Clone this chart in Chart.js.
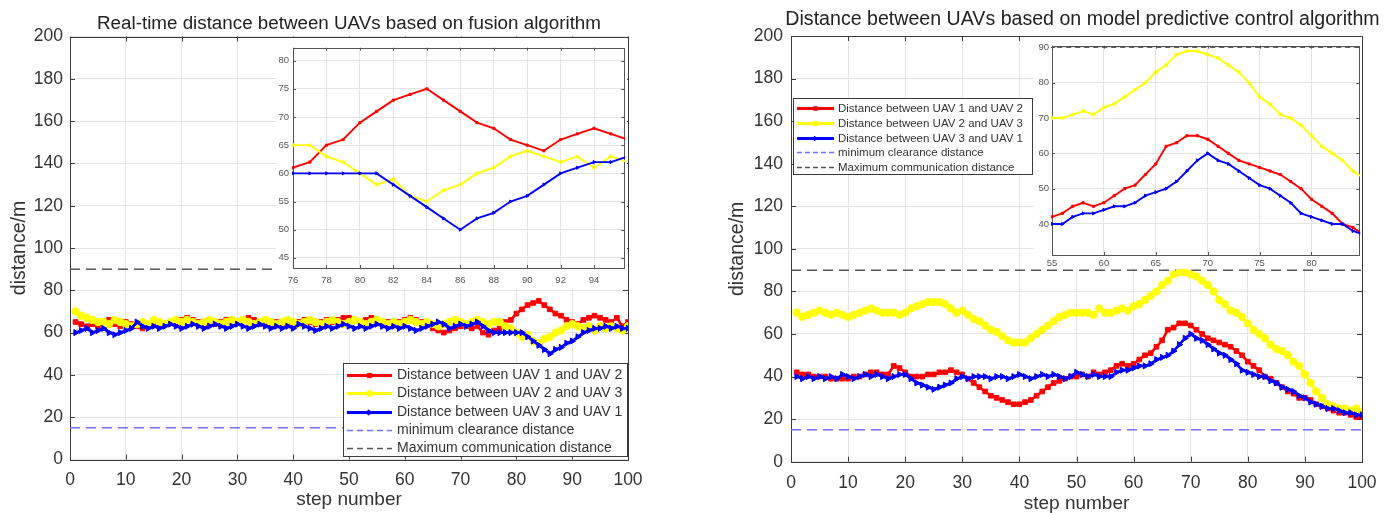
<!DOCTYPE html>
<html>
<head>
<meta charset="utf-8">
<title>Distance between UAVs</title>
<script src="https://cdn.jsdelivr.net/npm/chart.js@4/dist/chart.umd.min.js"></script>
<style>
html,body{margin:0;padding:0;background:#fff;overflow:hidden;}
#stage{position:relative;width:1391px;height:513px;background:#fff;}
canvas{position:absolute;display:block;}
#c1{left:0;top:0;}
#c3{left:660px;top:0;}
#c2{left:276px;top:38px;background:#fff;}
#c4{left:1034px;top:37px;background:#fff;}
</style>
</head>
<body>
<div id="stage">
<canvas id="c1" width="660" height="513"></canvas>
<canvas id="c3" width="731" height="513"></canvas>
<canvas id="c2" width="351" height="250"></canvas>
<canvas id="c4" width="328" height="232"></canvas>
</div>
<script>
// ---------------- data ----------------
const steps = Array.from({length: 100}, (_, i) => i + 1);

const seriesLabels = [
  'Distance between UAV 1 and UAV 2',
  'Distance between UAV 2 and UAV 3',
  'Distance between UAV 3 and UAV 1'
];
const refLabels = ['minimum clearance distance', 'Maximum communication distance'];
const clearanceLevel = 15;
const commLevel = 90;

const titles = [
  'Real-time distance between UAVs based on fusion algorithm',
  'Distance between UAVs based on model predictive control algorithm'
];
const xAxisTitle = 'step number';
const yAxisTitle = 'distance/m';

// fusion algorithm (left)
const fusionRed = [
  65,64,63,64,63,65,66,64,63,65,
  64,63,62,63,64,63,64,65,64,66,
  67,66,65,64,65,64,65,66,65,65,
  66,67,66,64,65,64,65,64,65,64,
  65,66,65,64,65,66,65,66,67,67,
  66,65,66,67,65,64,65,64,65,66,
  67,66,65,64,62,61,60,61,62,63,
  63,62,63,60,59,61,62,65,66,69,
  71,73,74,75,73,71,69,68,66,65,
  64,66,67,68,67,66,65,67,63,65
];
const fusionYellow = [
  70,68,67,66,65,65,64,66,65,64,
  63,64,65,64,66,65,64,65,66,65,
  66,65,64,65,66,65,64,65,66,65,
  66,65,64,65,66,65,64,65,66,65,
  64,65,66,65,64,65,66,65,64,65,
  66,65,64,65,66,65,64,65,64,65,
  66,65,64,65,64,63,64,65,66,65,
  64,65,66,65,64,65,65,63,62,60,
  58,59,56,55,57,58,60,61,63,64,
  63,62,63,61,63,62,63,62,61,63
];
const fusionBlue = [
  60,61,62,60,61,62,60,59,60,61,
  62,65,63,62,63,62,63,64,63,62,
  63,64,63,62,63,64,63,62,63,64,
  63,62,63,64,63,62,63,62,63,62,
  64,63,62,61,62,63,62,63,64,63,
  62,63,62,63,64,63,62,63,62,63,
  62,61,62,63,64,65,64,62,63,64,
  63,64,65,63,61,60,60,60,60,60,
  60,58,56,54,52,50,52,53,55,56,
  58,60,61,62,62,63,62,63,62,62
];

// model predictive control (right)
const mpcRed = [
  42,41,41,40,40,40,39,39,39,39,
  40,40,41,42,42,41,41,45,44,42,
  40,40,40,41,41,42,42,43,42,41,
  39,37,35,33,31,30,29,28,27,27,
  28,29,31,33,35,37,38,39,40,40,
  41,40,42,41,42,43,45,46,45,46,
  48,50,51,54,57,62,63,65,65,64,
  62,60,58,57,56,55,54,52,50,47,
  45,43,40,39,37,35,33,32,30,30,
  29,27,26,25,24,23,23,22,21,21
];
const mpcYellow = [
  70,68,69,70,71,70,69,70,69,68,
  69,70,71,72,71,70,70,70,69,70,
  72,73,74,75,75,75,74,72,70,71,
  69,67,66,64,62,61,59,57,56,56,
  56,58,60,62,64,66,68,69,70,70,
  70,70,69,72,70,70,71,72,71,73,
  74,76,78,80,83,85,88,89,89,88,
  87,85,83,80,76,74,71,70,68,65,
  62,60,58,55,53,52,50,47,45,41,
  37,33,30,27,26,25,25,24,25,23
];
const mpcBlue = [
  40,39,40,39,40,39,40,39,41,40,
  39,40,41,40,41,40,39,40,41,41,
  39,37,36,35,34,35,36,37,39,40,
  39,40,40,40,39,40,40,39,40,41,
  40,39,40,41,40,41,40,39,40,42,
  41,40,41,40,40,40,42,43,43,44,
  45,45,46,48,49,50,52,55,58,60,
  58,57,55,53,51,50,48,46,43,42,
  41,40,40,38,37,35,34,33,31,30,
  28,27,26,25,25,24,23,23,22,22
];

// axis ranges / ticks
const mainX = {min: 0, max: 100, step: 10};
const mainY = {min: 0, max: 200, step: 20};
const fusionInsetX = {min: 76, max: 95.8, step: 2};
const fusionInsetY = {min: 43.2, max: 82.3, step: 5};
const mpcInsetX = {min: 55, max: 84.6, step: 5};
const mpcInsetY = {min: 31.2, max: 90.5, step: 10};

// ---------------- style ----------------
const FONT = '"Liberation Sans", Arial, Helvetica, sans-serif';
Chart.defaults.font.family = FONT;
const RED = '#ff0000', YEL = '#ffff00', BLU = '#0000ff';
const CLEAR_C = '#6f6fff', COMM_C = '#555555';
const GRID = '#e4e4e4', AXIS = '#3a3a3a', TXT = '#333333';

function pts(vals) { return steps.map((s, i) => ({x: s, y: vals[i]})); }

function series(label, color, style, rot, vals, lw, r, order) {
  return {
    label, data: pts(vals), borderColor: color, backgroundColor: color,
    pointBackgroundColor: color, pointBorderColor: color, pointStyle: style,
    pointRotation: rot, pointRadius: r, pointHoverRadius: r, pointBorderWidth: 1,
    borderWidth: lw, tension: 0, order, legendWidth: 3.2
  };
}
function refLine(label, color, level, lw, dash) {
  return {
    label, data: [{x: mainX.min, y: level}, {x: mainX.max, y: level}],
    borderColor: color, backgroundColor: color, borderWidth: lw, borderDash: dash,
    pointRadius: 0, pointHoverRadius: 0, tension: 0, order: 4, legendWidth: 1.5
  };
}
function datasets(red, yel, blu, big) {
  const lw = big ? 2.6 : 1.9;
  return [
    series(seriesLabels[0], RED, 'rect', 0, red, lw, big ? 3.3 : 1.5, 3),
    series(seriesLabels[1], YEL, 'circle', 0, yel, lw, big ? 3.7 : 1.5, 2),
    series(seriesLabels[2], BLU, 'triangle', 90, blu, lw, big ? 3.5 : 1.8, 1),
    refLine(refLabels[0], CLEAR_C, clearanceLevel, 1.5, big ? [10, 6] : [5, 4]),
    refLine(refLabels[1], COMM_C, commLevel, big ? 1.5 : 1, big ? [10, 6] : [5, 4])
  ];
}

// ---------------- plugins ----------------
const framePlugin = {
  id: 'frame',
  beforeDatasetsDraw(chart, args, o) {
    const {ctx, chartArea: a, scales} = chart;
    const L = o.tick;
    ctx.save();
    ctx.strokeStyle = o.color;
    ctx.lineWidth = 1;
    ctx.beginPath();
    scales.x.ticks.forEach(t => {
      const px = Math.round(scales.x.getPixelForValue(t.value)) + 0.5;
      ctx.moveTo(px, a.bottom); ctx.lineTo(px, a.bottom - L);
      ctx.moveTo(px, a.top); ctx.lineTo(px, a.top + L);
    });
    scales.y.ticks.forEach(t => {
      const py = Math.round(scales.y.getPixelForValue(t.value)) + 0.5;
      ctx.moveTo(a.left, py); ctx.lineTo(a.left + L, py);
      ctx.moveTo(a.right, py); ctx.lineTo(a.right - L, py);
    });
    ctx.stroke();
    ctx.strokeRect(Math.round(a.left) + 0.5, Math.round(a.top) + 0.5,
      Math.round(a.right - a.left), Math.round(a.bottom - a.top));
    ctx.restore();
  }
};

const titlePlugin = {
  id: 'ttl',
  afterDraw(chart, args, o) {
    if (!o.text) return;
    const {ctx, chartArea: a} = chart;
    ctx.save();
    ctx.font = o.size + 'px ' + FONT;
    ctx.fillStyle = o.color;
    ctx.textAlign = 'center';
    ctx.textBaseline = 'alphabetic';
    ctx.fillText(o.text, (a.left + a.right) / 2 + o.dx, o.y);
    ctx.restore();
  }
};

const legendPlugin = {
  id: 'boxLegend',
  afterDraw(chart, args, o) {
    if (!o.show) return;
    const ctx = chart.ctx;
    ctx.save();
    ctx.fillStyle = '#ffffff';
    ctx.fillRect(o.x, o.y, o.w, o.h);
    ctx.strokeStyle = AXIS;
    ctx.lineWidth = 1;
    ctx.strokeRect(o.x + 0.5, o.y + 0.5, o.w - 1, o.h - 1);
    ctx.font = o.size + 'px ' + FONT;
    ctx.textBaseline = 'middle';
    ctx.textAlign = 'left';
    chart.data.datasets.forEach((ds, i) => {
      const yy = Math.round(o.y + o.first + i * o.gap) + 0.5;
      ctx.save();
      ctx.strokeStyle = ds.borderColor;
      ctx.lineWidth = ds.legendWidth;
      ctx.setLineDash(ds.borderDash ? o.dash : []);
      ctx.beginPath();
      ctx.moveTo(o.x + o.l0, yy);
      ctx.lineTo(o.x + o.l1, yy);
      ctx.stroke();
      ctx.restore();
      if (ds.pointRadius > 0) {
        ctx.save();
        ctx.fillStyle = ds.borderColor;
        ctx.strokeStyle = ds.borderColor;
        Chart.helpers.drawPoint(ctx, {pointStyle: ds.pointStyle, rotation: ds.pointRotation, radius: o.mr, borderWidth: 1},
          o.x + (o.l0 + o.l1) / 2, yy);
        ctx.restore();
      }
      ctx.fillStyle = TXT;
      ctx.fillText(ds.label, o.x + o.tx, yy);
    });
    ctx.restore();
  }
};

// ---------------- builders ----------------
function mainChart(id, d, c) {
  return new Chart(document.getElementById(id), {
    type: 'line',
    data: {datasets: datasets(d.red, d.yel, d.blu, true)},
    plugins: [framePlugin, titlePlugin, legendPlugin],
    options: {
      responsive: false, animation: false, devicePixelRatio: 1, events: [],
      layout: {padding: {left: 0, right: c.padRight, top: c.top, bottom: 0}},
      plugins: {
        legend: {display: false}, tooltip: {enabled: false},
        frame: {color: AXIS, tick: 5},
        ttl: {text: c.title, size: c.titleSize, color: '#222', y: c.titleY, dx: c.titleDx},
        boxLegend: c.legend
      },
      scales: {
        x: {
          type: 'linear', min: mainX.min, max: mainX.max,
          afterFit: s => { s.height = c.xh; },
          ticks: {stepSize: mainX.step, autoSkip: false, maxRotation: 0, font: {size: 17.5}, color: TXT, padding: c.xpad},
          grid: {color: GRID, drawTicks: false}, border: {display: false},
          title: {display: true, text: xAxisTitle, color: TXT, font: {size: 19, lineHeight: 1}, padding: {top: 0, bottom: c.xtb}}
        },
        y: {
          type: 'linear', min: mainY.min, max: mainY.max,
          afterFit: s => { s.width = c.yw; },
          ticks: {stepSize: mainY.step, autoSkip: false, font: {size: 17.5}, color: TXT, padding: c.ypad},
          grid: {color: GRID, drawTicks: false}, border: {display: false},
          title: {display: true, text: yAxisTitle, color: TXT, font: {size: 19.5, lineHeight: 1}, padding: {top: c.ytp, bottom: 0}}
        }
      }
    }
  });
}

function insetChart(id, d, rx, ry, c) {
  const ds = datasets(d.red, d.yel, d.blu, false);
  ds.forEach(s => { s.clip = 1; });
  return new Chart(document.getElementById(id), {
    type: 'line',
    data: {datasets: ds},
    plugins: [framePlugin],
    options: {
      responsive: false, animation: false, devicePixelRatio: 1, events: [],
      layout: {padding: {left: 0, right: 0, top: c.top, bottom: 0}},
      plugins: {legend: {display: false}, tooltip: {enabled: false}, frame: {color: '#555', tick: 3}},
      scales: {
        x: {
          type: 'linear', min: rx.min, max: rx.max,
          afterFit: s => { s.height = c.xh; },
          ticks: {stepSize: rx.step, includeBounds: false, autoSkip: false, maxRotation: 0, font: {size: 9.5}, color: '#555', padding: c.xpad},
          grid: {color: GRID, drawTicks: false}, border: {display: false}
        },
        y: {
          type: 'linear', min: ry.min, max: ry.max,
          afterFit: s => { s.width = c.yw; },
          ticks: {stepSize: ry.step, includeBounds: false, autoSkip: false, font: {size: 9.5}, color: '#555', padding: c.ypad},
          grid: {color: GRID, drawTicks: false}, border: {display: false}
        }
      }
    }
  });
}

const fusion = {red: fusionRed, yel: fusionYellow, blu: fusionBlue};
const mpc = {red: mpcRed, yel: mpcYellow, blu: mpcBlue};

mainChart('c1', fusion, {
  padRight: 32, top: 36.5, xh: 53.5, yw: 70, xpad: 10, ypad: 7, xtb: 4, ytp: 10,
  title: titles[0], titleSize: 18.8, titleY: 29, titleDx: 0,
  legend: {show: true, x: 343, y: 363, w: 285, h: 94, first: 12.3, gap: 18.1,
           l0: 4, l1: 49, tx: 54, size: 14, mr: 3, dash: [6, 4]}
});
mainChart('c3', mpc, {
  padRight: 29, top: 36, xh: 51.3, yw: 131, xpad: 11, ypad: 8, xtb: 0, ytp: 68,
  title: titles[1], titleSize: 19.6, titleY: 24.5, titleDx: 6,
  legend: {show: true, x: 133, y: 98, w: 240, h: 77, first: 10.3, gap: 14.6,
           l0: 4, l1: 41, tx: 45, size: 11.5, mr: 2.5, dash: [5, 3]}
});
insetChart('c2', fusion, fusionInsetX, fusionInsetY, {top: 5, xh: 20, yw: 17, xpad: 7, ypad: 4});
insetChart('c4', mpc, mpcInsetX, mpcInsetY, {top: 6, xh: 14, yw: 18, xpad: 3, ypad: 3});
</script>
</body>
</html>
